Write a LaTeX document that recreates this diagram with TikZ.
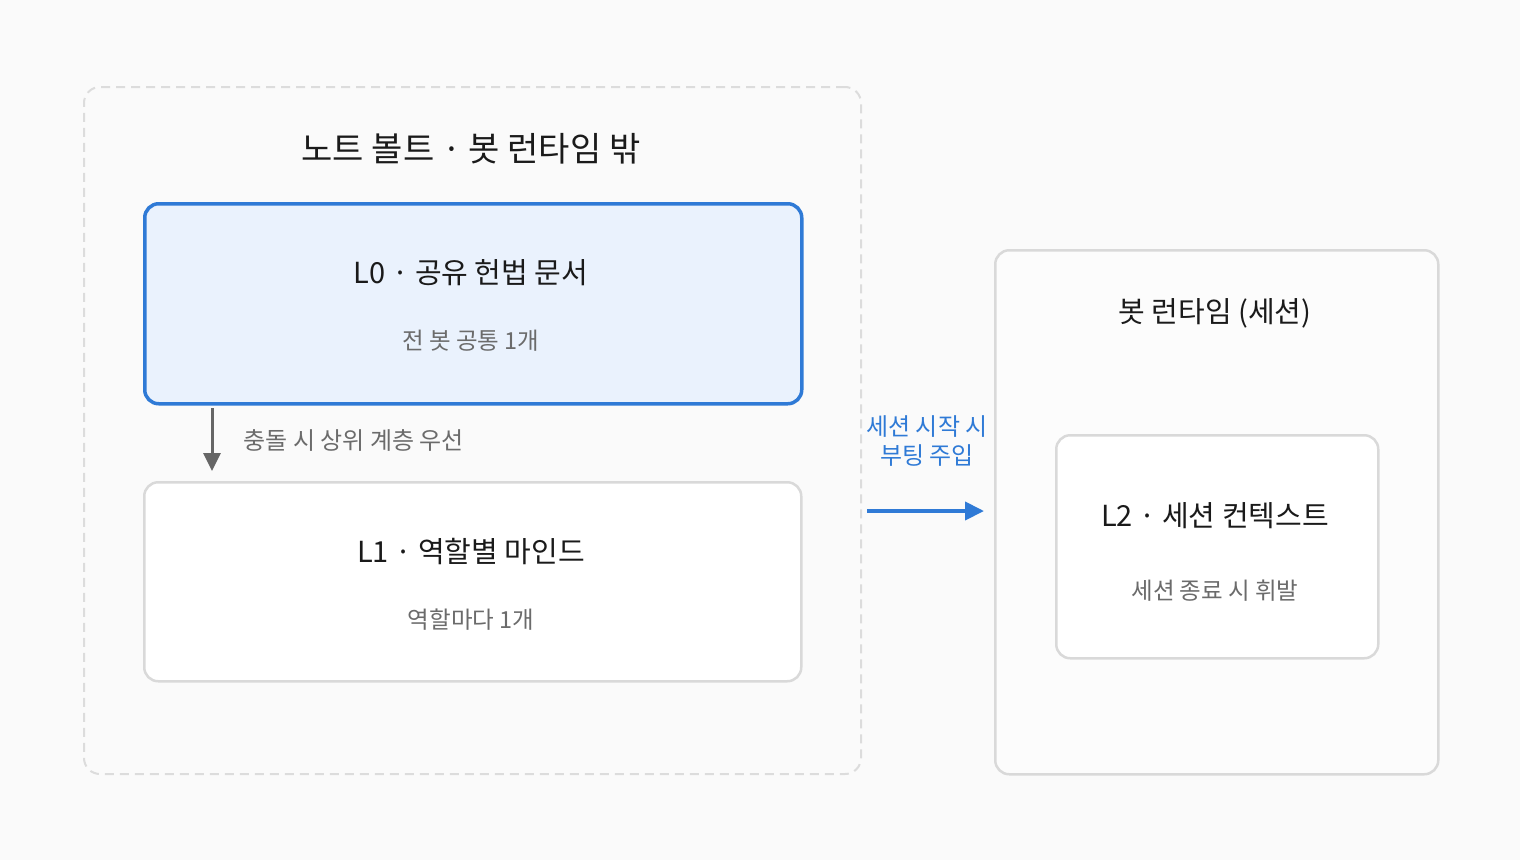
\documentclass[tikz,border=0pt]{standalone}
\usepackage{fontspec}
\setmainfont{Noto Sans CJK KR}
\usetikzlibrary{arrows.meta}
\definecolor{bg}{HTML}{FAFAFA}
\definecolor{grayline}{HTML}{D9D9D9}
\definecolor{dashline}{HTML}{DCDCDC}
\definecolor{blueline}{HTML}{2F7AD6}
\definecolor{bluefill}{HTML}{EAF2FD}
\definecolor{subtext}{HTML}{6B6B6B}
\definecolor{arrowgray}{HTML}{666666}
\definecolor{maintext}{HTML}{1A1A1A}
\begin{document}
\begin{tikzpicture}[x=1pt,y=-1pt,
  box/.style={draw, rounded corners=14pt, inner sep=0pt, anchor=north west},
  title/.style={font=\fontsize{34}{38}\selectfont, text=maintext},
  boxtitle/.style={font=\fontsize{29}{33}\selectfont, text=maintext},
  sub/.style={font=\fontsize{23.5}{27}\selectfont, text=subtext},
  note/.style={font=\fontsize{24}{28}\selectfont},
]
\useasboundingbox[fill=bg] (0,0) rectangle (1520,860);
% outer dashed region
\node[box, draw=dashline, line width=2pt, dash pattern=on 9pt off 6pt, rounded corners=16pt,
  minimum width=777pt, minimum height=687pt] (outer) at (83,86) {};
\node[title] (outertitle) at (471,149) {노트 볼트 · 봇 런타임 밖};
% L0
\node[box, draw=blueline, fill=bluefill, line width=3.5pt,
  minimum width=657pt, minimum height=200pt] (l0) at (143,202) {};
\node[boxtitle] (l0title) at (471,273) {L0 · 공유 헌법 문서};
\node[sub] (l0sub) at (471,341) {전 봇 공통 1개};
% L1
\node[box, draw=grayline, fill=white, line width=2.5pt,
  minimum width=657pt, minimum height=199pt] (l1) at (143,481) {};
\node[boxtitle] (l1title) at (471,551) {L1 · 역할별 마인드};
\node[sub] (l1sub) at (471,620) {역할마다 1개};
% arrow L0 -> L1
\coordinate (a0) at (212,408);
\coordinate (a1) at (212,471);
\draw[arrowgray, line width=3pt, -{Triangle[length=18pt,width=17pt]}] (a0) -- (a1);
\node[note, text=subtext, anchor=west] (conflict) at (240,440) {충돌 시 상위 계층 우선};
% right panel
\node[box, draw=grayline, fill=white!40!bg, line width=2.5pt,
  minimum width=443pt, minimum height=524pt] (rt) at (994,249) {};
\node[boxtitle] (rttitle) at (1215,313) {봇 런타임 (세션)};
% L2
\node[box, draw=grayline, fill=white, line width=2.5pt,
  minimum width=322pt, minimum height=223pt] (l2) at (1055,434) {};
\node[boxtitle] (l2title) at (1215,516) {L2 · 세션 컨텍스트};
\node[sub] (l2sub) at (1215,591) {세션 종료 시 휘발};
% blue arrow
\coordinate (b0) at (867,511);
\coordinate (b1) at (984,511);
\draw[blueline, line width=4pt, -{Triangle[length=19pt,width=18pt]}] (b0) -- (b1);
\node[note, text=blueline, align=center, font=\fontsize{24}{29}\selectfont] (inject) at (927,441) {세션 시작 시\\부팅 주입};
\end{tikzpicture}
\end{document}
